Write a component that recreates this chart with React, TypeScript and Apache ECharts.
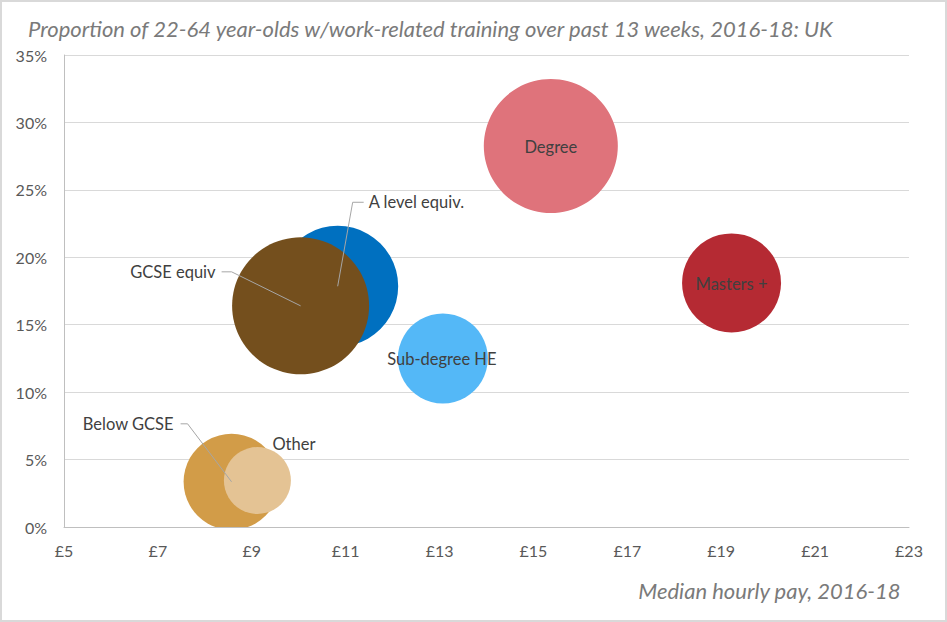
import React, { useEffect, useRef } from "react";
import * as echarts from "echarts";

// ---- data ----
const categories = ["Masters +", "Degree", "Sub-degree HE", "A level equiv.", "GCSE equiv", "Below GCSE", "Other"];
const medianPay = [19.22, 15.37, 13.07, 10.83, 10.04, 8.57, 9.12]; // £ per hour
const trainingShare = [18.1, 28.25, 12.5, 17.85, 16.4, 3.35, 3.45]; // %
const bubbleSize = [52.2, 95.7, 43.2, 78.0, 100, 49.1, 23.9]; // relative area
const xTickLabels = [5, 7, 9, 11, 13, 15, 17, 19, 21, 23];
const yTicks = [0, 5, 10, 15, 20, 25, 30, 35];

// ---- styles ----
const colors = ["#B52A33", "#DF737B", "#54B8F7", "#0070C0", "#744F1D", "#D29C48", "#E4C394"];
// label placement relative to bubble centre (px)
type Lay = { dx: number; dy: number; align: "left" | "center" | "right"; leader?: number[][] };
const labelLayout: Lay[] = [
  { dx: 0, dy: 1, align: "center" },
  { dx: 0, dy: 1, align: "center" },
  { dx: -1, dy: 1, align: "center" },
  { dx: 31, dy: -84, align: "left", leader: [[0, 0], [15, -84], [26, -84]] },
  { dx: -85, dy: -34, align: "right", leader: [[0, 0], [-69, -34], [-79, -34]] },
  { dx: -58, dy: -58, align: "right", leader: [[0, 0], [-44, -58], [-51, -58]] },
  { dx: 15, dy: -36, align: "left" },
];
const FONT = "Lato, 'Open Sans', sans-serif";
const MAX_R = 68.5;
const MAX_SIZE = 100;

export default function App() {
  const ref = useRef<HTMLDivElement>(null);
  useEffect(() => {
    if (!ref.current) return;
    const chart = echarts.init(ref.current, undefined, { renderer: "svg" });
    const data = categories.map((name, i) => [medianPay[i], trainingShare[i], bubbleSize[i], name]);
    chart.setOption({
      animation: false,
      backgroundColor: "#FFFFFF",
      title: [
        {
          text: "Proportion of 22-64 year-olds w/work-related training over past 13 weeks, 2016-18: UK",
          left: 23,
          top: 12,
          textStyle: { fontFamily: FONT, fontSize: 22, fontStyle: "italic", fontWeight: "normal", color: "#7A7A7A" },
        },
        {
          text: "Median hourly pay, 2016-18",
          right: 41,
          top: 574,
          textStyle: { fontFamily: FONT, fontSize: 22, fontStyle: "italic", fontWeight: "normal", color: "#7A7A7A" },
        },
      ],
      graphic: [
        {
          type: "rect",
          shape: { x: 1, y: 1, width: 945, height: 620 },
          style: { fill: "none", stroke: "#D9D9D9", lineWidth: 2 },
          silent: true,
        },
      ],
      grid: { left: 64, top: 55, width: 845, height: 472, containLabel: false },
      xAxis: {
        type: "value",
        min: 5,
        max: 23,
        interval: 1,
        axisLine: { show: true, lineStyle: { color: "#BFBFBF", width: 1 } },
        axisTick: { show: false },
        splitLine: { show: false },
        axisLabel: {
          margin: 15,
          color: "#595959",
          fontFamily: FONT,
          fontSize: 16,
          formatter: (v: number) => (xTickLabels.indexOf(v) >= 0 ? "£" + v : ""),
        },
      },
      yAxis: {
        type: "value",
        min: yTicks[0],
        max: yTicks[yTicks.length - 1],
        interval: 5,
        axisLine: { show: true, lineStyle: { color: "#BFBFBF", width: 1 } },
        axisTick: { show: false },
        splitLine: { show: true, lineStyle: { color: "#D9D9D9", width: 1 } },
        axisLabel: { margin: 17, color: "#595959", fontFamily: FONT, fontSize: 16, formatter: "{value}%" },
      },
      series: [
        {
          type: "custom",
          name: "bubbles",
          clip: true,
          z: 2,
          data,
          encode: { x: 0, y: 1 },
          renderItem: (params: any, api: any) => {
            const c = api.coord([api.value(0), api.value(1)]);
            const r = MAX_R * Math.sqrt(api.value(2) / MAX_SIZE);
            return {
              type: "circle",
              shape: { cx: c[0], cy: c[1], r },
              style: { fill: colors[params.dataIndex] },
            };
          },
        },
        {
          type: "custom",
          name: "labels",
          clip: false,
          z: 5,
          data,
          encode: { x: 0, y: 1 },
          silent: true,
          renderItem: (params: any, api: any) => {
            const c = api.coord([api.value(0), api.value(1)]);
            const lay = labelLayout[params.dataIndex];
            const children: any[] = [];
            if (lay.leader) {
              children.push({
                type: "polyline",
                shape: { points: lay.leader.map((p) => [c[0] + p[0], c[1] + p[1]]) },
                style: { stroke: "#A6A6A6", lineWidth: 1, fill: null },
              });
            }
            children.push({
              type: "text",
              x: c[0] + lay.dx,
              y: c[1] + lay.dy,
              style: {
                text: categories[params.dataIndex],
                fill: "#404040",
                fontFamily: FONT,
                fontSize: 16.5,
                align: lay.align,
                verticalAlign: "middle",
              },
            });
            return { type: "group", children };
          },
        },
      ],
    });
    return () => chart.dispose();
  }, []);
  return (
    <div
      ref={ref}
      style={{ position: "fixed", left: 0, top: 0, width: 947, height: 622, background: "#fff" }}
    />
  );
}
